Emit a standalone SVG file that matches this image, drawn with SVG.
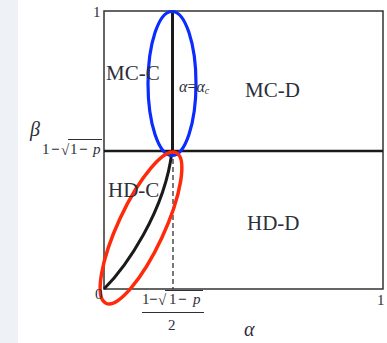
<svg xmlns="http://www.w3.org/2000/svg" width="387" height="343" viewBox="0 0 387 343">
<style>
.t{font-family:"Liberation Serif","DejaVu Serif",serif;fill:#2e2e3a}
.lbl{font-size:21px}
.num{font-size:15px}
.it{font-style:italic}
.mn{font-weight:bold}
.ov{stroke:#2e2e3a;stroke-width:1}
</style>
<rect width="387" height="343" fill="#ffffff"/>
<rect x="0" y="0" width="18" height="343" fill="#eef2f6"/>
<g id="frame">
<rect x="104" y="11" width="279" height="278" fill="none" stroke="#333" stroke-width="1.5"/>
</g>
<g id="connectors">
<line x1="104" y1="151" x2="383" y2="151" stroke="#1a1a1a" stroke-width="2.6"/>
<line x1="172.5" y1="11" x2="172.5" y2="151" stroke="#1a1a1a" stroke-width="3"/>
<line x1="173" y1="151" x2="173" y2="289" stroke="#333" stroke-width="1.3" stroke-dasharray="5,3"/>
<path d="M104,289 C125,268 165,212 172,151" fill="none" stroke="#1a1a1a" stroke-width="3"/>
</g>
<g id="blue-ellipse"><ellipse cx="172" cy="83.5" rx="24" ry="72" fill="none" stroke="#0a2cff" stroke-width="3.2"/></g>
<g id="red-ellipse"><ellipse cx="141" cy="228" rx="83" ry="23" transform="rotate(-65 141 228)" fill="none" stroke="#ff2a0a" stroke-width="3.5"/></g>
<g id="MC-C"><text class="t lbl" x="106" y="80">MC-C</text></g>
<g id="MC-D"><text class="t lbl" x="245" y="97">MC-D</text></g>
<g id="HD-C"><text class="t lbl" x="108" y="197">HD-C</text></g>
<g id="HD-D"><text class="t lbl" x="247" y="230">HD-D</text></g>
<g id="alpha-c"><text class="t" x="179" y="92" font-size="16"><tspan class="it">α</tspan>=<tspan class="it">α</tspan><tspan class="it" font-size="10" dy="2">c</tspan></text></g>
<g id="axes-labels">
<text class="t num" x="93" y="17">1</text>
<text class="t it" x="30" y="136" font-size="20">β</text>
<text class="t num" x="42" y="154">1</text>
<text class="t num mn" x="51" y="154">−</text>
<text class="t num" x="61" y="155">√</text>
<line class="ov" x1="68" y1="139.5" x2="102" y2="139.5"/>
<text class="t num" x="70" y="154">1</text>
<text class="t num mn" x="79" y="154">−</text>
<text class="t num it" x="93" y="154">p</text>
<text class="t num" x="95" y="299">0</text>
<text class="t num" x="142" y="304">1</text>
<text class="t num mn" x="149" y="304">−</text>
<text class="t num" x="158" y="305">√</text>
<line class="ov" x1="165" y1="290.5" x2="203" y2="290.5"/>
<text class="t num" x="169" y="304">1</text>
<text class="t num mn" x="178" y="304">−</text>
<text class="t num it" x="193" y="304">p</text>
<line x1="142" y1="312.5" x2="204" y2="312.5" stroke="#2e2e3a" stroke-width="1.2"/>
<text class="t num" x="168" y="330">2</text>
<text class="t num" x="377" y="305">1</text>
<text class="t it" x="244" y="336" font-size="20">α</text>
</g>
</svg>
